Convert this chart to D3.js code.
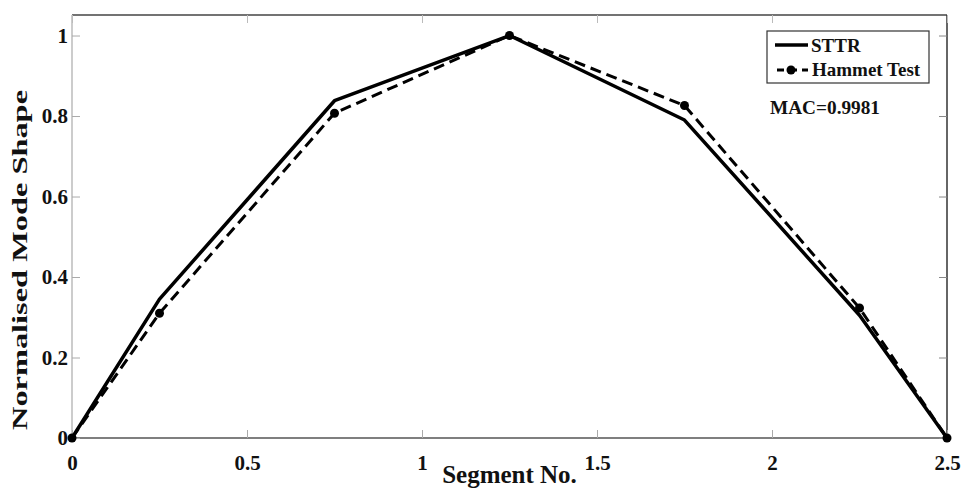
<!DOCTYPE html>
<html>
<head>
<meta charset="utf-8">
<script src="https://cdn.jsdelivr.net/npm/d3@7"></script>
<style>
  html, body { margin: 0; padding: 0; background: #fff; }
  svg { display: block; }
  text { font-family: "Liberation Serif", "Times New Roman", serif; font-weight: bold; fill: #111; }
</style>
</head>
<body>
<svg id="chart" width="962" height="491"></svg>
<script>
// ---- data ----
const segments = [0, 0.25, 0.75, 1.25, 1.75, 2.25, 2.5];
const sttr     = [0, 0.345, 0.838, 1.0, 0.79, 0.305, 0];
const hammet   = [0, 0.31, 0.807, 1.0, 0.826, 0.323, 0];
const xTicks = [0, 0.5, 1, 1.5, 2, 2.5];
const yTicks = [0, 0.2, 0.4, 0.6, 0.8, 1];
const seriesNames = ["STTR", "Hammet Test"];
const macText = "MAC=0.9981";
const xTitle = "Segment No.";
const yTitle = "Normalised Mode Shape";

const svg = d3.select("#chart");
const L = 72, R = 947, T = 15, B = 438;
const x = d3.scaleLinear().domain([0, 2.5]).range([L, R]);
const y = d3.scaleLinear().domain([0, 1.051]).range([B, T]);

// frame
const frame = svg.append("g");
frame.append("line").attr("x1", L).attr("x2", R).attr("y1", T).attr("y2", T).attr("stroke", "#444").attr("stroke-width", 1.5);
frame.append("line").attr("x1", R).attr("x2", R).attr("y1", T).attr("y2", B).attr("stroke", "#333").attr("stroke-width", 1.5);
frame.append("line").attr("x1", L).attr("x2", R).attr("y1", B).attr("y2", B).attr("stroke", "#555").attr("stroke-width", 1.5);
frame.append("line").attr("x1", L).attr("x2", L).attr("y1", T).attr("y2", B).attr("stroke", "#aaa").attr("stroke-width", 1.2);

// axes via d3 axis (inward ticks)
const xAxis = d3.axisBottom(x).tickValues(xTicks).tickSize(-8).tickPadding(17).tickFormat(d3.format("~g"));
const gx = svg.append("g").attr("transform", `translate(0,${B})`).call(xAxis);
gx.select(".domain").remove();
gx.selectAll(".tick line").attr("stroke", "#aaa");
gx.selectAll(".tick text").attr("font-size", 21).attr("fill", "#111");

const xTop = d3.axisTop(x).tickValues(xTicks).tickSize(-8).tickFormat("");
const gxt = svg.append("g").attr("transform", `translate(0,${T})`).call(xTop);
gxt.select(".domain").remove();
gxt.selectAll(".tick line").attr("stroke", "#bbb");

const yAxis = d3.axisLeft(y).tickValues(yTicks).tickSize(-8).tickPadding(4).tickFormat(d3.format("~g"));
const gy = svg.append("g").attr("transform", `translate(${L},0)`).call(yAxis);
gy.select(".domain").remove();
gy.selectAll(".tick line").attr("stroke", "#aaa");
gy.selectAll(".tick text").attr("font-size", 21).attr("fill", "#111");

const yRight = d3.axisRight(y).tickValues(yTicks).tickSize(-8).tickFormat("");
const gyr = svg.append("g").attr("transform", `translate(${R},0)`).call(yRight);
gyr.select(".domain").remove();
gyr.selectAll(".tick line").attr("stroke", "#888");

// lines
const line = d3.line().x((d, i) => x(segments[i])).y(d => y(d));
svg.append("path").datum(sttr).attr("d", line)
  .attr("fill", "none").attr("stroke", "#000").attr("stroke-width", 3.5).attr("stroke-linejoin", "round");
svg.append("path").datum(hammet).attr("d", line)
  .attr("fill", "none").attr("stroke", "#000").attr("stroke-width", 3).attr("stroke-dasharray", "11,6");
svg.append("g").selectAll("circle").data(hammet).join("circle")
  .attr("cx", (d, i) => x(segments[i])).attr("cy", d => y(d)).attr("r", 4.5).attr("fill", "#000");

// titles
svg.append("text").attr("x", (L + R) / 2).attr("y", 483).attr("text-anchor", "middle")
  .attr("font-size", 25).text(xTitle);
svg.append("text").attr("transform", "translate(27,260) rotate(-90)").attr("text-anchor", "middle")
  .attr("font-size", 22).attr("textLength", 340).attr("lengthAdjust", "spacingAndGlyphs").text(yTitle);

// legend
const lg = svg.append("g");
lg.append("rect").attr("x", 767).attr("y", 31).attr("width", 162).attr("height", 52)
  .attr("fill", "#fff").attr("stroke", "#333").attr("stroke-width", 1.2);
lg.append("line").attr("x1", 775).attr("x2", 808).attr("y1", 45).attr("y2", 45).attr("stroke", "#000").attr("stroke-width", 3.5);
lg.append("text").attr("x", 811).attr("y", 52).attr("font-size", 19).text(seriesNames[0]);
lg.append("line").attr("x1", 777).attr("x2", 808).attr("y1", 70).attr("y2", 70).attr("stroke", "#000").attr("stroke-width", 3).attr("stroke-dasharray", "7,5,8,5");
lg.append("circle").attr("cx", 791).attr("cy", 70).attr("r", 4.5).attr("fill", "#000");
lg.append("text").attr("x", 812).attr("y", 76).attr("font-size", 19).text(seriesNames[1]);

svg.append("text").attr("x", 770).attr("y", 114).attr("font-size", 19).attr("font-weight", "normal")
  .attr("textLength", 110).attr("lengthAdjust", "spacingAndGlyphs").text(macText);
</script>
</body>
</html>
